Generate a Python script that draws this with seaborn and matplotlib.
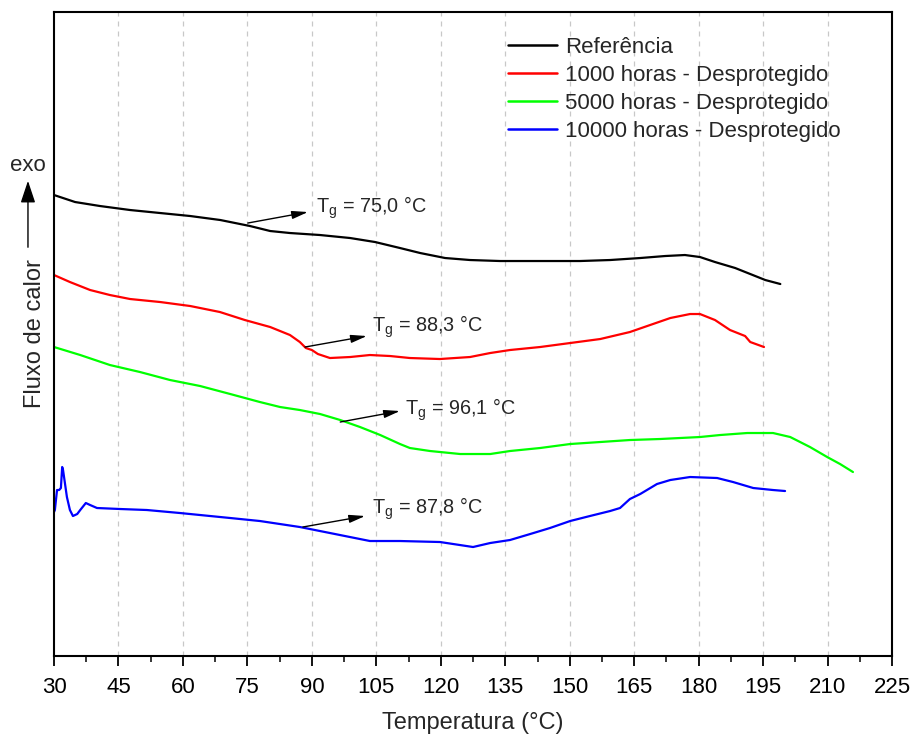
import numpy as np
import pandas as pd
import matplotlib
matplotlib.use("Agg")
import matplotlib.pyplot as plt
import seaborn as sns

# ---- data ----
ref_T = [30.0, 31.4, 34.9, 40.7, 47.7, 54.7, 61.7, 68.7, 75.6, 80.3, 84.9, 91.9, 98.9, 104.7, 110.5,
         115.2, 121.0, 126.8, 133.8, 143.1, 152.4, 159.4, 166.4, 172.2, 176.8, 180.3, 183.8, 188.5,
         192.0, 195.5, 199.0]
ref_Q = [4.61, 4.59, 4.54, 4.50, 4.46, 4.43, 4.40, 4.36, 4.30, 4.25, 4.23, 4.21, 4.18, 4.14, 4.08,
         4.03, 3.98, 3.96, 3.95, 3.95, 3.95, 3.96, 3.98, 4.00, 4.01, 3.99, 3.94, 3.88,
         3.82, 3.76, 3.72]

h1000_T = [30.0, 33.7, 38.4, 43.0, 47.7, 54.7, 61.7, 68.6, 74.4, 80.3, 84.9, 87.2, 88.6, 90.0, 91.4,
           94.2, 98.9, 103.5, 108.2, 112.8, 119.8, 126.8, 131.5, 136.1, 143.1, 150.1, 157.1, 164.0,
           168.7, 173.4, 178.0, 180.3, 183.8, 187.3, 190.8, 192.0, 195.2]
h1000_Q = [3.81, 3.74, 3.66, 3.61, 3.57, 3.54, 3.50, 3.44, 3.36, 3.29, 3.21, 3.14, 3.08, 3.06, 3.02,
           2.98, 2.99, 3.01, 3.00, 2.98, 2.97, 2.99, 3.03, 3.06, 3.09, 3.13, 3.17, 3.24,
           3.31, 3.38, 3.42, 3.42, 3.36, 3.26, 3.20, 3.14, 3.09]

h5000_T = [30.0, 36.1, 43.0, 50.0, 57.0, 64.0, 71.0, 77.9, 82.6, 87.2, 91.9, 96.6, 101.2, 105.9, 110.5,
           112.8, 117.5, 124.5, 131.5, 136.1, 143.1, 150.1, 157.1, 164.0, 171.0, 180.3, 185.0, 191.3,
           197.3, 201.3, 205.9, 209.9, 212.9, 215.9]
h5000_Q = [3.09, 3.01, 2.91, 2.84, 2.76, 2.70, 2.62, 2.54, 2.49, 2.46, 2.42, 2.36, 2.29, 2.21, 2.12,
           2.08, 2.05, 2.02, 2.02, 2.05, 2.08, 2.12, 2.14, 2.16, 2.17, 2.19, 2.21, 2.23,
           2.23, 2.19, 2.09, 1.99, 1.92, 1.84]

h10000_T = [30.0, 30.2, 30.7, 31.2, 31.6, 31.9, 32.1, 33.0, 33.7, 34.4, 35.4, 36.1, 37.4, 38.4, 40.0,
            45.4, 51.6, 59.3, 71.0, 77.9, 87.2, 94.2, 103.5, 110.5, 119.8, 127.5, 131.5, 136.1,
            140.8, 145.4, 150.1, 154.7, 159.4, 161.7, 164.0, 166.4, 170.3, 173.4, 178.0, 184.3,
            188.0, 192.7, 197.3, 200.1]
h10000_Q = [1.44, 1.46, 1.66, 1.66, 1.68, 1.89, 1.86, 1.59, 1.46, 1.40, 1.42, 1.46, 1.53, 1.51, 1.48,
            1.47, 1.46, 1.43, 1.38, 1.35, 1.29, 1.23, 1.15, 1.15, 1.14, 1.09, 1.13, 1.16,
            1.22, 1.28, 1.35, 1.40, 1.45, 1.48, 1.57, 1.62, 1.72, 1.76, 1.79, 1.78,
            1.74, 1.68, 1.66, 1.65]

series_names = ["Referência", "1000 horas - Desprotegido", "5000 horas - Desprotegido",
                "10000 horas - Desprotegido"]
series_colors = ["#000000", "#ff0000", "#00ff00", "#0000ff"]

tg_labels = ["75,0", "88,3", "96,1", "87,8"]
tg_arrow_tail = [(75.1, 4.33), (88.4, 3.09), (96.6, 2.34), (87.9, 1.29)]
tg_arrow_head = [(89.1, 4.44), (102.8, 3.20), (110.5, 2.45), (102.4, 1.40)]
tg_text_pos = [(91.0, 4.43), (104.0, 3.24), (111.7, 2.41), (104.0, 1.42)]

x_ticks = list(range(30, 226, 15))

# ---- build long table ----
frames = []
for name, T, Q in zip(series_names,
                      [ref_T, h1000_T, h5000_T, h10000_T],
                      [ref_Q, h1000_Q, h5000_Q, h10000_Q]):
    frames.append(pd.DataFrame({"T": T, "Q": Q, "serie": name}))
df = pd.concat(frames, ignore_index=True)

sns.set_theme(style="white")
plt.rcParams["font.family"] = ["Liberation Sans", "DejaVu Sans"]
plt.rcParams["mathtext.fontset"] = "custom"
plt.rcParams["mathtext.rm"] = "Liberation Sans"
plt.rcParams["mathtext.it"] = "Liberation Sans"

fig = plt.figure(figsize=(9.14, 7.38), dpi=100)
ax = fig.add_axes([0.0591, 0.1111, 0.9169, 0.8726])

sns.lineplot(data=df, x="T", y="Q", hue="serie", hue_order=series_names,
             palette=series_colors, sort=False, estimator=None, linewidth=1.6, ax=ax)

ax.set_xlim(30, 225)
ax.set_ylim(0, 6.44)
ax.set_xticks(x_ticks)
ax.set_xticks([t + 7.5 for t in x_ticks[:-1]], minor=True)
ax.set_yticks([])
ax.tick_params(axis="x", which="major", direction="out", length=7, width=1.3,
               labelsize=16, bottom=True, top=False, pad=8, colors="black")
ax.tick_params(axis="x", which="minor", direction="out", length=4, width=1.3,
               bottom=True, top=False)
for t in x_ticks[1:-1]:
    ax.axvline(t, color="#c8c8c8", lw=0.9, ls=(0, (4, 4)), zorder=0)
for s in ax.spines.values():
    s.set_visible(True)
    s.set_color("black")
    s.set_linewidth(1.5)

ax.set_xlabel("Temperatura (°C)", fontsize=17, labelpad=10)
ax.set_ylabel("Fluxo de calor", fontsize=17, labelpad=6)

leg = ax.legend(loc="upper left", bbox_to_anchor=(0.531, 0.975), borderaxespad=0,
                frameon=False, fontsize=16, handlelength=2.2, handletextpad=0.36,
                labelspacing=0.31)
for line in leg.get_lines():
    line.set_linewidth(1.8)

for lab, tail, head, tpos in zip(tg_labels, tg_arrow_tail, tg_arrow_head, tg_text_pos):
    ax.annotate("", xy=head, xytext=tail,
                arrowprops=dict(arrowstyle="-|>,head_length=0.8,head_width=0.2",
                                color="black", lw=1.0, shrinkA=0, shrinkB=0))
    ax.text(tpos[0], tpos[1], r"T$_\mathregular{g}$ = " + lab + " °C",
            fontsize=14.3, ha="left", va="baseline")

fig.text(0.0306, 0.776, "exo", fontsize=16, ha="center", va="center")
fig.add_artist(matplotlib.patches.FancyArrowPatch(
    (0.0306, 0.665), (0.0306, 0.755), transform=fig.transFigure,
    arrowstyle="-|>,head_length=0.9,head_width=0.3", mutation_scale=15,
    color="black", lw=1.0, shrinkA=0, shrinkB=0))

fig.savefig("out.png", dpi=100)
